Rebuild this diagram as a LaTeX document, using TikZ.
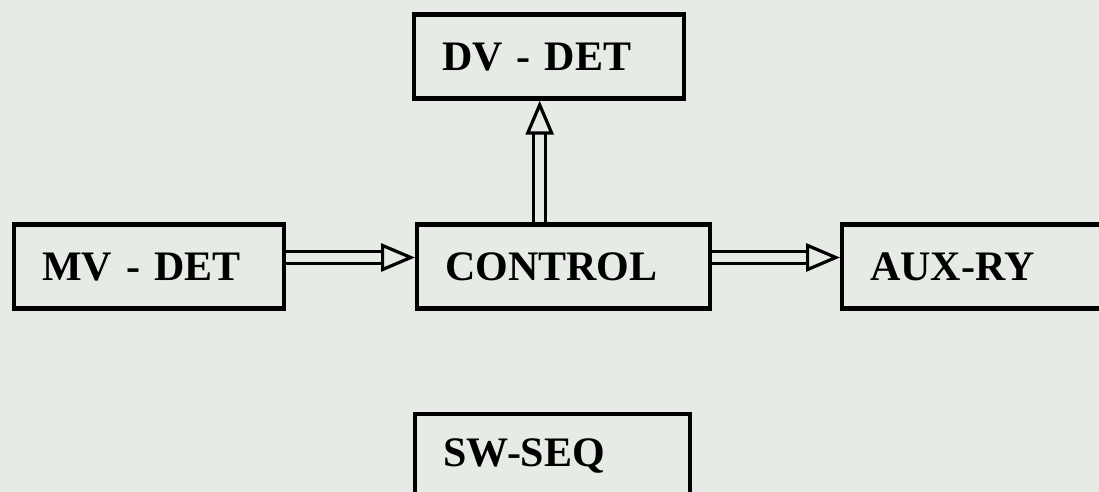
\documentclass[tikz,border=0pt]{standalone}
\usepackage{fontspec}
\setmainfont{Liberation Serif}
\usetikzlibrary{arrows.meta}
\definecolor{paper}{RGB}{231,235,230}
\begin{document}
\begin{tikzpicture}[
        x=0.5pt, y=-0.5pt,
        block/.style = {rectangle, draw=black, line width=2.2pt, inner xsep=14pt, inner ysep=0pt,
                        minimum height=42pt, align=left, anchor=west, text depth=0pt,
                        font=\fontsize{21}{25}\selectfont\bfseries},
        dbl/.style = {draw=black, line width=1.6pt, double=paper, double distance=4.5pt,
                      -{Triangle[open, length=17pt, width=14pt]}}
    ]
    % ================= FONDO =================
    \path[use as bounding box, fill=paper] (0,0) rectangle (1099,492);
    \clip (0,0) rectangle (1099,492);

    % ================= BLOQUES =================
    \node[block, text width=107pt] (dv) at (412, 56.5) {DV - DET};
    \node[block, text width=107pt] (mv) at (12, 266.5) {MV - DET};
    \node[block, text width=118.5pt] (ctrl) at (415, 266.5) {CONTROL};
    \node[block, text width=120pt] (aux) at (840, 266.5) {AUX-RY};
    \node[block, text width=109.5pt, minimum height=0pt, inner ysep=12pt, text depth=16pt,
          anchor=north west] (sw) at (413, 412) {SW-SEQ};

    % ================= FLECHAS =================
    \draw[dbl] ([yshift=4.5pt]mv.east) -- ([yshift=4.5pt]ctrl.west);
    \draw[dbl] ([yshift=4.5pt]ctrl.east) -- ([yshift=4.5pt]aux.west);
    \draw[dbl] ([xshift=-12pt]ctrl.north) -- ([xshift=-12pt]ctrl.north |- dv.south);

\end{tikzpicture}
\end{document}
